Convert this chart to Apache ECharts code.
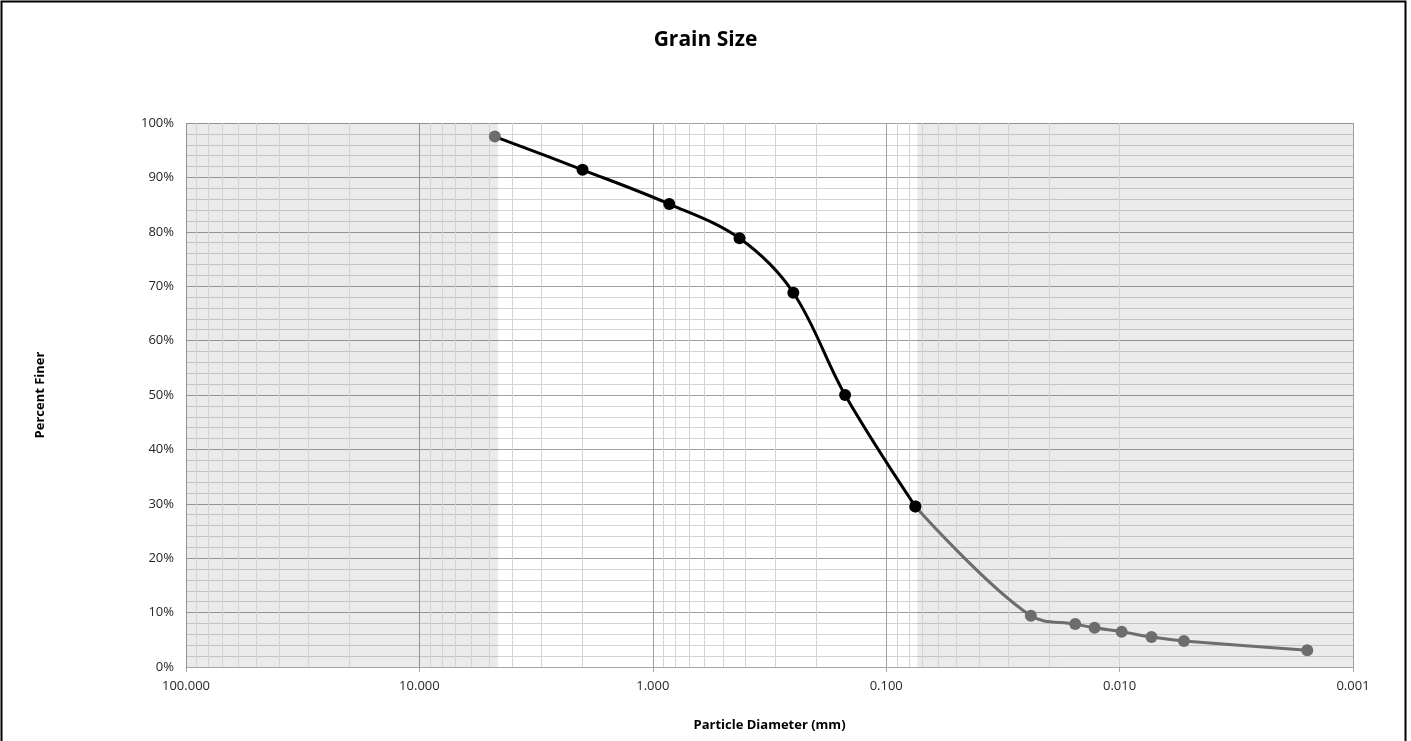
<!DOCTYPE html>
<html>
<head>
<meta charset="utf-8">
<script src="https://cdn.jsdelivr.net/npm/echarts@6/dist/echarts.min.js"></script>
<style>
  html, body { margin: 0; padding: 0; background: #fff; }
  #chart { width: 1411px; height: 741px; }
</style>
</head>
<body>
<div id="chart"></div>
<script>
// sieve analysis (mm, % finer)
var sieveSize = [4.75, 2.0, 0.85, 0.425, 0.25, 0.15, 0.075];
var sievePct = [97.5, 91.4, 85.1, 78.8, 68.8, 50.0, 29.5];
// hydrometer analysis
var hydroSize = [0.075, 0.024, 0.0155, 0.0128, 0.0098, 0.0073, 0.0053, 0.00157];
var hydroPct = [29.5, 9.4, 7.9, 7.2, 6.5, 5.5, 4.8, 3.1];
// x tick labels
var xTicks = ["100.000", "10.000", "1.000", "0.100", "0.010", "0.001"];
// shaded zones (gravel, fines)
var zones = [[100, 4.6], [0.0735, 0.001]];

var chart = echarts.init(document.getElementById("chart"));

var font = "'Open Sans', 'Liberation Sans', sans-serif";

// minor vertical grid lines 2..9 in every decade
var minorX = [];
for (var e = -3; e < 2; e++) {
  for (var m = 2; m <= 9; m++) {
    minorX.push({ xAxis: m * Math.pow(10, e) });
  }
}

var sieveData = sieveSize.map(function (d, i) {
  var item = { value: [d, sievePct[i]] };
  if (i === 0) item.itemStyle = { color: "#6d6d6d" };
  return item;
});
var hydroData = hydroSize.map(function (d, i) {
  return [d, hydroPct[i]];
});

var option = {
  backgroundColor: "#fff",
  animation: false,
  title: {
    text: "Grain Size",
    left: "center",
    top: 25,
    textStyle: { fontFamily: font, fontSize: 21, fontWeight: "bold", color: "#000" },
  },
  grid: {
    left: 186,
    right: 58,
    top: 123,
    bottom: 74,
  },
  xAxis: {
    type: "log",
    logBase: 10,
    min: 0.001,
    max: 100,
    inverse: true,
    name: "Particle Diameter (mm)",
    nameLocation: "middle",
    nameGap: 52,
    nameTextStyle: { fontFamily: font, fontSize: 13, fontWeight: "bold", color: "#000" },
    axisLine: { show: true, lineStyle: { color: "#a6a6a6" } },
    axisTick: { show: true, length: 5, lineStyle: { color: "#a6a6a6" } },
    axisLabel: {
      fontFamily: font,
      fontSize: 13,
      color: "#262626",
      margin: 13,
      formatter: function (v) {
        var s = v.toFixed(3);
        return xTicks.indexOf(s) >= 0 ? s : "";
      },
    },
    splitLine: { show: true, lineStyle: { color: "#a0a0a0", width: 1 } },
  },
  yAxis: {
    type: "value",
    min: 0,
    max: 100,
    interval: 10,
    name: "Percent Finer",
    nameLocation: "middle",
    nameGap: 139,
    nameRotate: 90,
    nameTextStyle: { fontFamily: font, fontSize: 13, fontWeight: "bold", color: "#000" },
    axisLine: { show: false },
    axisTick: { show: false },
    axisLabel: {
      fontFamily: font,
      fontSize: 13,
      color: "#262626",
      margin: 12,
      formatter: "{value}%",
    },
    splitLine: { show: true, lineStyle: { color: "#a0a0a0", width: 1 } },
    minorTick: { show: false, splitNumber: 5 },
    minorSplitLine: { show: true, lineStyle: { color: "#d4d4d4", width: 1 } },
  },
  series: [
    {
      name: "minor grid",
      type: "line",
      data: [],
      silent: true,
      z: 1,
      markLine: {
        silent: true,
        z: 1,
        symbol: "none",
        label: { show: false },
        lineStyle: { color: "#d4d4d4", type: "solid", width: 1 },
        emphasis: { disabled: true },
        data: minorX,
      },
    },
    {
      name: "zones",
      type: "line",
      data: [],
      silent: true,
      z: 1,
      markArea: {
        silent: true,
        z: 1,
        itemStyle: { color: "rgba(0,0,0,0.08)" },
        data: zones.map(function (z) {
          return [{ xAxis: z[0] }, { xAxis: z[1] }];
        }),
      },
    },
    {
      name: "Hydrometer",
      type: "line",
      smooth: 0.35,
      z: 3,
      data: hydroData,
      symbol: "circle",
      symbolSize: 12,
      showSymbol: true,
      lineStyle: { color: "#6d6d6d", width: 3 },
      itemStyle: { color: "#6d6d6d" },
    },
    {
      name: "Sieve",
      type: "line",
      smooth: 0.35,
      z: 4,
      data: sieveData,
      symbol: "circle",
      symbolSize: 12,
      showSymbol: true,
      lineStyle: { color: "#000", width: 3 },
      itemStyle: { color: "#000" },
    },
  ],
  graphic: [
    {
      type: "rect",
      shape: { x: 1.5, y: 1.5, width: 1404, height: 760 },
      style: { fill: null, stroke: "#000", lineWidth: 2 },
      silent: true,
    },
  ],
};

chart.setOption(option);
</script>
</body>
</html>
